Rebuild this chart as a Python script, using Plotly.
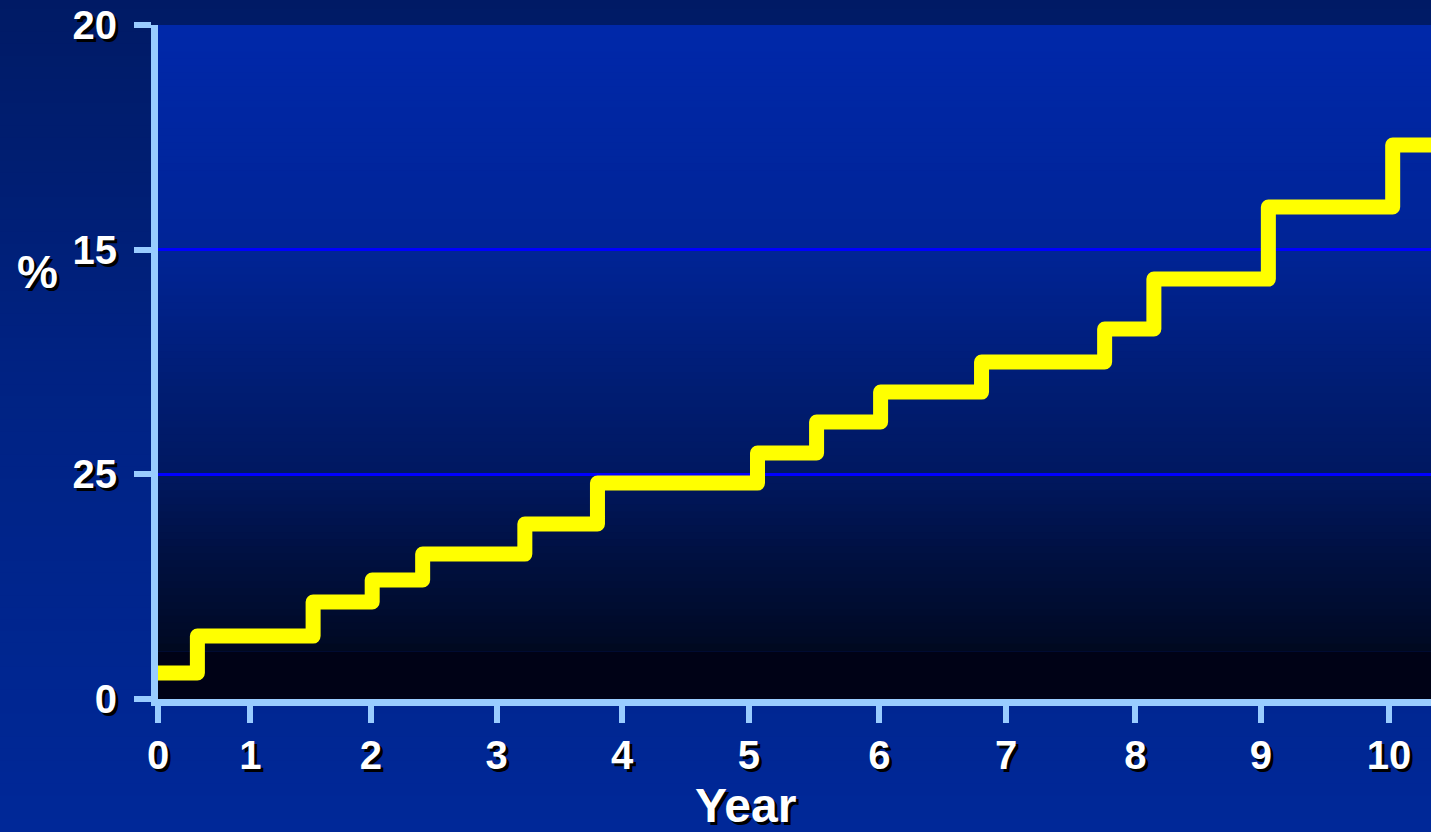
import plotly.graph_objects as go

# Cumulative incidence staircase: event times (years) and level after each step
years = [0.0, 0.32, 1.26, 1.74, 2.15, 2.98, 3.57, 4.87, 5.35, 5.87, 6.69,
         7.69, 8.09, 9.02, 10.03, 10.34]
rate = [0.116, 0.280, 0.432, 0.530, 0.645, 0.779, 0.961, 1.095, 1.233,
        1.366, 1.500, 1.647, 1.869, 2.190, 2.466, 2.466]

# Axis ticks
x_tick_pos = [0.0, 0.75, 1.73, 2.75, 3.77, 4.80, 5.86, 6.89, 7.94, 8.96, 10.0]
x_tick_text = ["0", "1", "2", "3", "4", "5", "6", "7", "8", "9", "10"]
y_tick_pos = [0, 1, 2, 3]
y_tick_text = ["0", "25", "15", "20"]

W, H = 1431, 832
ML, MR, MT, MB = 158, 0, 25, 133
PW, PH = W - ML - MR, H - MT - MB

AXIS_BLUE = "#99ccff"
SHADOW = "3px 3px 0px #000000"


def lerp(stops, t):
    for (t0, c0), (t1, c1) in zip(stops, stops[1:]):
        if t0 <= t <= t1:
            f = 0 if t1 == t0 else (t - t0) / (t1 - t0)
            return tuple(round(a + (b - a) * f) for a, b in zip(c0, c1))
    return stops[-1][1]


shapes = []

# Page background: dark navy at top fading to brighter blue at bottom
page_stops = [(0, (0, 24, 92)), (0.5, (0, 34, 130)), (1, (0, 40, 152))]
n = 80
top_p, bot_p = (PH + MB) / PH, -MB / PH
for i in range(n):
    y0 = top_p - (top_p - bot_p) * i / n
    y1 = top_p - (top_p - bot_p) * (i + 1) / n
    r, g, b = lerp(page_stops, (i + 0.5) / n)
    shapes.append(dict(type="rect", xref="paper", yref="paper", x0=-1, x1=2,
                       y0=y1, y1=y0 + 0.002, line_width=0,
                       fillcolor=f"rgb({r},{g},{b})", layer="below"))

# Plot area background: blue at top to near black at the bottom
plot_stops = [(3.0, (0, 40, 170)), (2.0, (0, 36, 150)), (1.33, (0, 28, 112)),
              (1.0, (0, 24, 96)), (0.62, (0, 16, 64)), (0.26, (0, 10, 38)),
              (0.21, (0, 8, 30))]
plot_stops_t = [(3.0 - v, c) for v, c in plot_stops]
m = 90
lo = 0.21
for i in range(m):
    y1 = 3.0 - (3.0 - lo) * i / m
    y0 = 3.0 - (3.0 - lo) * (i + 1) / m
    r, g, b = lerp(plot_stops_t, 3.0 - (y0 + y1) / 2)
    shapes.append(dict(type="rect", xref="paper", yref="y", x0=0, x1=1,
                       y0=y0, y1=y1 + 0.005, line_width=0,
                       fillcolor=f"rgb({r},{g},{b})", layer="below"))
shapes.append(dict(type="rect", xref="paper", yref="y", x0=0, x1=1,
                   y0=0, y1=lo, line_width=0,
                   fillcolor="rgb(0,2,22)", layer="below"))

fig = go.Figure()
fig.add_trace(go.Scatter(
    x=years, y=rate, mode="lines", line_shape="hv",
    line=dict(color="#ffff00", width=15), hoverinfo="skip",
    showlegend=False,
))

tick_font = dict(family="Liberation Sans, Arial, sans-serif", size=40,
                 color="white", weight="bold", shadow=SHADOW)

fig.update_layout(
    width=W, height=H,
    margin=dict(l=ML, r=MR, t=MT, b=MB, pad=0),
    paper_bgcolor="rgb(0,34,130)",
    plot_bgcolor="rgba(0,0,0,0)",
    shapes=shapes,
    xaxis=dict(range=[0, (W - ML - MR) / 123.1], tickvals=x_tick_pos,
               ticktext=x_tick_text, showgrid=False, zeroline=False,
               showline=True, linecolor=AXIS_BLUE, linewidth=7,
               ticks="outside", ticklen=17, tickwidth=6, tickcolor=AXIS_BLUE,
               tickfont=tick_font, ticklabelstandoff=-2, fixedrange=True),
    yaxis=dict(range=[0, 3], tickvals=y_tick_pos, ticktext=y_tick_text,
               showgrid=True, gridcolor="#0000ff", gridwidth=3,
               zeroline=False, showline=True, linecolor=AXIS_BLUE,
               linewidth=7, ticks="outside", ticklen=17, tickwidth=6,
               tickcolor=AXIS_BLUE, tickfont=tick_font, ticklabelstandoff=9,
               fixedrange=True),
    annotations=[
        dict(text="%", xref="paper", yref="paper",
             x=(37 - ML) / PW, y=(MT + PH - 272) / PH,
             xanchor="center", yanchor="middle", showarrow=False,
             font=dict(tick_font, size=46)),
        dict(text="Year", xref="paper", yref="paper",
             x=(745 - ML) / PW, y=(MT + PH - 777) / PH,
             xanchor="center", yanchor="top", showarrow=False,
             font=dict(tick_font, size=48)),
    ],
)

fig.write_html(
    "out.html",
    config={"displayModeBar": False, "staticPlot": True},
    post_script=(
        "var s=document.createElement('style');"
        "s.textContent='path.js-line{stroke-linejoin:round !important;"
        "stroke-linecap:round !important;}';"
        "document.head.appendChild(s);"
        "document.querySelectorAll('path.js-line').forEach(function(p){"
        "p.setAttribute('stroke-linejoin','round');"
        "p.style.setProperty('stroke-linejoin','round','important');});"
    ),
)
